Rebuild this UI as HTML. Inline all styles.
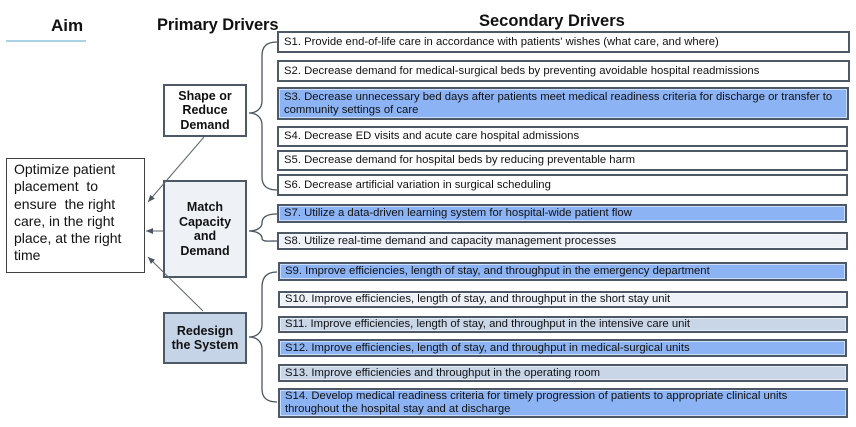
<!DOCTYPE html>
<html>
<head>
<meta charset="utf-8">
<style>
  html,body{margin:0;padding:0;background:#fff;}
  body{width:856px;height:427px;position:relative;overflow:hidden;font-family:"Liberation Sans",Arial,sans-serif;color:#111;}
  .abs{position:absolute;}
  .hdr{position:absolute;font-weight:bold;white-space:nowrap;line-height:1;color:#111;}
  .sec{position:absolute;box-sizing:border-box;border:2px solid #4d5966;font-size:11.3px;line-height:13px;padding-left:5px;display:flex;align-items:center;white-space:nowrap;color:#111;box-shadow:inset 0 0 0 1px rgba(255,255,255,0.55);}
  .w{background:#ffffff;}
  .b{background:#8cb3f4;}
  .g{background:#c8d6e8;}
  .l{background:#eef2f8;}
  .pri{position:absolute;box-sizing:border-box;border:2px solid #4d5966;font-weight:bold;font-size:12.5px;line-height:14.5px;text-align:center;display:flex;align-items:center;justify-content:center;color:#111;}
  .aim{position:absolute;box-sizing:border-box;border:1.5px solid #404040;background:#fff;font-size:14px;line-height:17.3px;padding:2px 0 0 7px;white-space:nowrap;color:#111;}
</style>
</head>
<body>

<div class="hdr" style="left:51px;top:17px;font-size:17px;">Aim</div>
<div class="abs" style="left:6px;top:40px;width:80px;height:1.5px;background:#a9d3e3;"></div>
<div class="hdr" style="left:157px;top:17px;font-size:16.5px;letter-spacing:-0.1px;">Primary Drivers</div>
<div class="hdr" style="left:479px;top:13px;font-size:16.5px;">Secondary Drivers</div>

<div class="aim" style="left:6px;top:158px;width:139px;height:115px;">Optimize patient<br>placement&nbsp; to<br>ensure&nbsp; the right<br>care, in the right<br>place, at the right<br>time</div>

<div class="pri" style="left:163px;top:84px;width:84px;height:53px;background:#fff;"><div>Shape or<br>Reduce<br>Demand</div></div>
<div class="pri" style="left:163px;top:180px;width:84px;height:98px;background:#eef2f7;"><div>Match<br>Capacity<br>and<br>Demand</div></div>
<div class="pri" style="left:163px;top:312px;width:84px;height:52px;background:#c6d4e8;"><div>Redesign<br>the System</div></div>

<div class="sec w" style="left:277px;top:31px;width:573px;height:22px;">S1. Provide end-of-life care in accordance with patients' wishes (what care, and where)</div>
<div class="sec w" style="left:277px;top:60px;width:573px;height:22px;">S2. Decrease demand for medical-surgical beds by preventing avoidable hospital readmissions</div>
<div class="sec b" style="left:277px;top:87px;width:572px;height:33px;"><div>S3. Decrease unnecessary bed days after patients meet medical readiness criteria for discharge or transfer to<br>community settings of care</div></div>
<div class="sec w" style="left:277px;top:126px;width:571px;height:21px;">S4. Decrease ED visits and acute care hospital admissions</div>
<div class="sec w" style="left:277px;top:150px;width:571px;height:21px;">S5. Decrease demand for hospital beds by reducing preventable harm</div>
<div class="sec w" style="left:277px;top:174px;width:571px;height:22px;">S6. Decrease artificial variation in surgical scheduling</div>
<div class="sec b" style="left:277px;top:204px;width:570px;height:19px;">S7. Utilize a data-driven learning system for hospital-wide patient flow</div>
<div class="sec l" style="left:277px;top:232px;width:571px;height:18px;">S8. Utilize real-time demand and capacity management processes</div>
<div class="sec b" style="left:278px;top:262px;width:569px;height:19px;">S9. Improve efficiencies, length of stay, and throughput in the emergency department</div>
<div class="sec l" style="left:278px;top:291px;width:570px;height:17px;">S10. Improve efficiencies, length of stay, and throughput in the short stay unit</div>
<div class="sec g" style="left:278px;top:316px;width:570px;height:17px;">S11. Improve efficiencies, length of stay, and throughput in the intensive care unit</div>
<div class="sec b" style="left:278px;top:339px;width:569px;height:18px;">S12. Improve efficiencies, length of stay, and throughput in medical-surgical units</div>
<div class="sec g" style="left:278px;top:364px;width:570px;height:18px;">S13. Improve efficiencies and throughput in the operating room</div>
<div class="sec b" style="left:278px;top:388px;width:570px;height:30px;"><div>S14. Develop medical readiness criteria for timely progression of patients to appropriate clinical units<br>throughout the hospital stay and at discharge</div></div>

<svg class="abs" style="left:0;top:0;" width="856" height="427" viewBox="0 0 856 427">
  <defs>
    <marker id="ah" markerWidth="8" markerHeight="8" refX="7" refY="4" orient="auto" markerUnits="userSpaceOnUse">
      <path d="M0,1 L7,4 L0,7 Z" fill="#4a5560"/>
    </marker>
  </defs>
  <g fill="none" stroke="#4a5560" stroke-width="1.3">
    <path d="M277,42 C267,42 262,46 262,56 L262,101 C262,109 256,113 249,113 C256,113 262,117 262,125 L262,177 C262,186 267,190 277,190"/>
    <path d="M277,214 C267,214 262,217 262,223 C262,228 256,231 249,231 C256,231 262,234 262,238 C262,242 267,241 277,241"/>
    <path d="M277,272 C267,272 262,277 262,287 L262,325 C262,333 256,337 249,337 C256,337 262,341 262,349 L262,389 C262,398 267,402 277,402"/>
  </g>
  <g stroke="#5a6570" stroke-width="1">
    <line x1="204" y1="137" x2="148" y2="202" marker-end="url(#ah)"/>
    <line x1="163" y1="231" x2="146" y2="231" marker-end="url(#ah)"/>
    <line x1="203" y1="311" x2="148" y2="257" marker-end="url(#ah)"/>
  </g>
</svg>

</body>
</html>
